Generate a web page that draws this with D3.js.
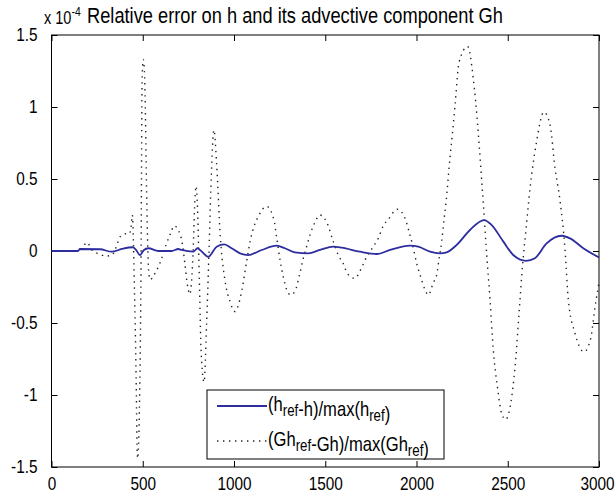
<!DOCTYPE html>
<html lang="en">
<head>
	<meta charset="utf-8">
	<title>Relative error on h and Gh</title>
	<script src="https://d3js.org/d3.v7.min.js"></script>
	<style>
		body { margin: 0; background: #fff; }
		text { font-family: "Liberation Sans", Arial, sans-serif; fill: #000; }
	</style>
</head>
<body>
	<div id="chart"></div>
	<script>
		// values are in units of 1e-4
		let xTicks = [0, 500, 1000, 1500, 2000, 2500, 3000];
		let yTicks = [-1.5, -1, -0.5, 0, 0.5, 1, 1.5];
		let yTickLabels = ["-1.5", "-1", "-0.5", "0", "0.5", "1", "1.5"];

		// (h_ref - h)/max(h_ref)  -- solid blue
		let hErr = [
			[0, 0], [145, 0], [156, 0.014], [266, 0.012], [330, -0.005], [385, 0.014],
			[445, 0.026], [462, 0.01], [485, -0.028], [505, 0.005], [531, 0.019], [585, 0],
			[658, 0], [695, 0.014], [713, 0.007], [777, -0.005], [800, 0.019], [814, 0.007],
			[859, -0.04], [905, 0.03], [947, 0.046], [987, 0.019], [1033, -0.016], [1078, -0.028],
			[1152, 0.007], [1234, 0.037], [1279, 0.019], [1334, -0.009], [1407, -0.016],
			[1471, 0.007], [1544, 0.03], [1590, 0.023], [1690, -0.005], [1782, -0.021],
			[1855, 0.007], [1964, 0.037], [2010, 0.03], [2074, -0.005], [2129, -0.016],
			[2165, -0.009], [2220, 0.042], [2293, 0.146], [2370, 0.215], [2412, 0.18],
			[2476, 0.065], [2530, -0.028], [2600, -0.068], [2649, -0.05], [2713, 0.053],
			[2795, 0.106], [2841, 0.088], [2914, 0.019], [3000, -0.045]
		];

		// (Gh_ref - Gh)/max(Gh_ref)  -- black dotted
		let ghErr = [
			[0, 0], [150, 0], [170, 0.02], [193, 0.06], [226, 0], [262, -0.02], [295, -0.035],
			[330, -0.03], [352, 0.02], [377, 0.10], [408, 0.12], [426, 0.12], [436, 0.165],
			[443, 0.25], [448, 0.1], [455, -0.3], [460, -0.6], [465, -1.0], [468, -1.3],
			[472, -1.44], [477, -1.35], [483, -1.0], [488, -0.5], [491, 0], [493, 0.5],
			[495, 1.0], [498, 1.25], [503, 1.33], [509, 1.25], [514, 1.0], [520, 0.5],
			[526, 0.1], [533, -0.15], [541, -0.2], [560, -0.17], [594, -0.085], [627, 0.04],
			[655, 0.13], [672, 0.175], [697, 0.14], [717, 0.05], [730, -0.08], [744, -0.23],
			[758, -0.30], [768, -0.2], [776, 0], [784, 0.3], [792, 0.45], [800, 0.3],
			[810, -0.2], [820, -0.7], [836, -0.91], [850, -0.5], [863, 0], [875, 0.5],
			[890, 0.84], [905, 0.6], [925, 0.1], [950, -0.2], [978, -0.35], [1005, -0.42],
			[1024, -0.375], [1042, -0.28], [1069, -0.074], [1088, 0.065], [1115, 0.19],
			[1133, 0.24], [1179, 0.31], [1219, 0.215], [1234, 0.09], [1252, -0.06],
			[1270, -0.18], [1289, -0.27], [1310, -0.305], [1334, -0.28], [1358, -0.17],
			[1380, -0.05], [1398, 0.03], [1416, 0.11], [1444, 0.2], [1470, 0.25], [1508, 0.2],
			[1544, 0.065], [1572, -0.03], [1603, -0.1], [1618, -0.15], [1660, -0.19],
			[1705, -0.1], [1727, -0.04], [1763, 0.03], [1791, 0.09], [1818, 0.175],
			[1846, 0.22], [1895, 0.29], [1941, 0.215], [1959, 0.135], [1979, 0.04],
			[2001, -0.085], [2023, -0.18], [2047, -0.27], [2065, -0.305], [2092, -0.22],
			[2110, -0.17], [2123, -0.06], [2138, 0.065], [2152, 0.23], [2162, 0.34],
			[2184, 0.655], [2198, 0.83], [2211, 1.01], [2233, 1.31], [2280, 1.42],
			[2311, 1.2], [2324, 1.04], [2342, 0.76], [2361, 0.42], [2385, -0.03],
			[2403, -0.34], [2421, -0.69], [2443, -0.94], [2467, -1.13], [2488, -1.17],
			[2522, -1.01], [2545, -0.73], [2563, -0.41], [2582, -0.085], [2600, 0.15],
			[2622, 0.435], [2655, 0.736], [2698, 0.965], [2732, 0.875], [2759, 0.574],
			[2786, 0.354], [2814, 0.007], [2832, -0.34], [2868, -0.57], [2918, -0.70],
			[2954, -0.61], [2978, -0.39], [3000, -0.22]
		];

		let width = 615;
		let height = 498;
		let pLeft = 51.5, pRight = 599, pTop = 35, pBottom = 467;
		// the original figure was squeezed sideways, so the text is narrow
		let squeeze = 0.83;

		let svg = d3.select("#chart")
			.append("svg")
			.attr("width", width)
			.attr("height", height);

		let x = d3.scaleLinear().domain([0, 3000]).range([pLeft, pRight]);
		let y = d3.scaleLinear().domain([-1.5, 1.5]).range([pBottom, pTop]);

		// ticks: inward on all four sides, like a matlab box
		svg.append("g")
			.attr("transform", `translate(0,${pBottom})`)
			.call(d3.axisBottom(x).tickValues(xTicks).tickSize(-6).tickSizeOuter(0).tickPadding(10)
				.tickFormat(d => String(d)))
			.call(g => g.select(".domain").remove())
			.attr("font-size", 18.5)
			.call(g => g.selectAll(".tick text")
				.attr("transform", (d, i) => `translate(${i === xTicks.length - 1 ? -2 : 0},0) scale(${squeeze},1)`));
		svg.append("g")
			.attr("transform", `translate(0,${pTop})`)
			.call(d3.axisTop(x).tickValues(xTicks).tickSize(-6).tickSizeOuter(0).tickFormat(""))
			.call(g => g.select(".domain").remove());
		svg.append("g")
			.attr("transform", `translate(${pLeft},0)`)
			.call(d3.axisLeft(y).tickValues(yTicks).tickSize(-6).tickSizeOuter(0).tickPadding(14)
				.tickFormat((d, i) => yTickLabels[i]))
			.call(g => g.select(".domain").remove())
			.attr("font-size", 18.5)
			.call(g => g.selectAll(".tick text")
				.attr("x", null)
				.attr("transform", `translate(-14,0) scale(${squeeze},1)`));
		svg.append("g")
			.attr("transform", `translate(${pRight},0)`)
			.call(d3.axisRight(y).tickValues(yTicks).tickSize(-6).tickSizeOuter(0).tickFormat(""))
			.call(g => g.select(".domain").remove());

		svg.selectAll(".tick line").attr("stroke", "#000");
		svg.selectAll(".tick text").attr("fill", "#000").attr("font-family", "Liberation Sans, Arial, sans-serif");

		svg.append("rect")
			.attr("x", pLeft).attr("y", pTop)
			.attr("width", pRight - pLeft).attr("height", pBottom - pTop)
			.attr("fill", "none").attr("stroke", "#000").attr("stroke-width", 1);

		let line = d3.line()
			.x(d => x(d[0]))
			.y(d => y(d[1]))
			.curve(d3.curveMonotoneX);

		svg.append("path")
			.datum(ghErr)
			.attr("fill", "none")
			.attr("stroke", "#222")
			.attr("stroke-width", 1.4)
			.attr("stroke-dasharray", "1.4,4.6")
			.attr("d", line);

		svg.append("path")
			.datum(hErr)
			.attr("fill", "none")
			.attr("stroke", "#2d2d9f")
			.attr("stroke-width", 1.8)
			.attr("d", line);

		// title and exponent
		let expo = svg.append("text")
			.attr("transform", `translate(44,24) scale(${squeeze},1)`)
			.attr("font-size", 17.5);
		expo.append("tspan").text("x 10");
		expo.append("tspan").attr("dy", -8).attr("font-size", 12.5).text("-4");
		svg.append("text")
			.attr("transform", `translate(87,23) scale(${squeeze},1)`)
			.attr("font-size", 22)
			.text("Relative error on h and its advective component Gh");

		// legend
		let lg = svg.append("g");
		lg.append("rect")
			.attr("x", 207).attr("y", 390).attr("width", 237).attr("height", 69)
			.attr("fill", "#fff").attr("stroke", "#000").attr("stroke-width", 1);
		lg.append("line")
			.attr("x1", 217).attr("x2", 267).attr("y1", 406).attr("y2", 406)
			.attr("stroke", "#2d2d9f").attr("stroke-width", 1.8);
		lg.append("line")
			.attr("x1", 217).attr("x2", 267).attr("y1", 441).attr("y2", 441)
			.attr("stroke", "#222").attr("stroke-width", 1.4).attr("stroke-dasharray", "1.4,4.6");

		function addSub(t, parts) {
			parts.forEach(p => {
				if (p.sub) {
					t.append("tspan").attr("dy", 5).attr("font-size", 16).text(p.s);
					t.append("tspan").attr("dy", -5).text("");
				} else {
					t.append("tspan").text(p.s);
				}
			});
		}
		let t1 = lg.append("text")
			.attr("transform", `translate(268,411) scale(${squeeze},1)`)
			.attr("font-size", 20);
		addSub(t1, [{s: "(h"}, {s: "ref", sub: true}, {s: "-h)/max(h"}, {s: "ref", sub: true}, {s: ")"}]);
		let t2 = lg.append("text")
			.attr("transform", `translate(268,446) scale(${squeeze},1)`)
			.attr("font-size", 20);
		addSub(t2, [{s: "(Gh"}, {s: "ref", sub: true}, {s: "-Gh)/max(Gh"}, {s: "ref", sub: true}, {s: ")"}]);
	</script>
</body>
</html>
